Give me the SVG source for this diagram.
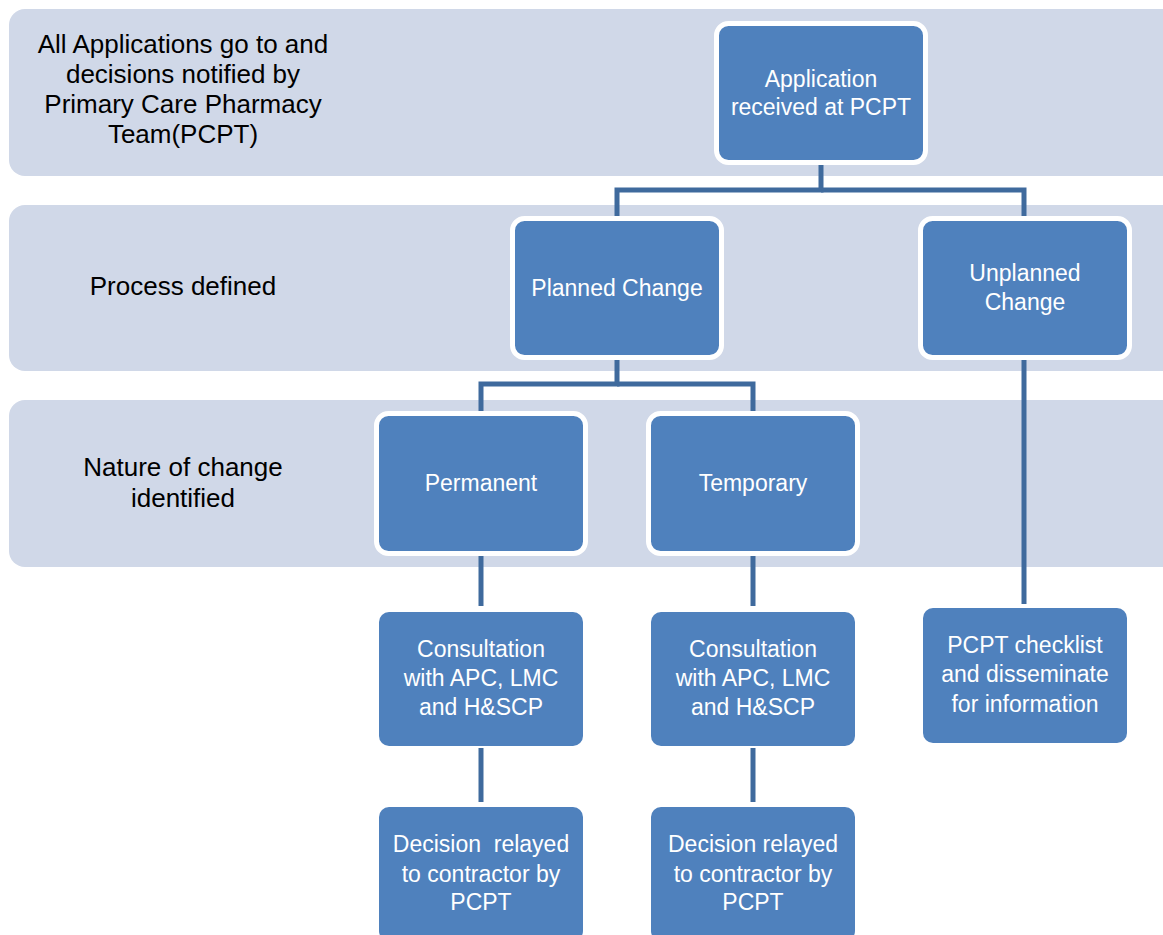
<svg xmlns="http://www.w3.org/2000/svg" width="1163" height="935" viewBox="0 0 1163 935">
<style>
.band{fill:#D0D8E8}
.lbl{font-family:"Liberation Sans",Arial,sans-serif;font-size:26px;fill:#000;text-anchor:middle}
.nb{fill:#4F81BD;stroke:#fff;stroke-width:5}
.n{fill:#4F81BD}
.t{font-family:"Liberation Sans",Arial,sans-serif;font-size:23px;fill:#fff;text-anchor:middle}
.c{fill:none;stroke:#3F6A9D;stroke-width:5}
</style>
<rect width="1163" height="935" fill="#fff"/>
<g id="bands">
<rect class="band" x="9" y="9" width="1170" height="167" rx="16"/>
<rect class="band" x="9" y="205" width="1170" height="166" rx="16"/>
<rect class="band" x="9" y="400" width="1170" height="167" rx="16"/>
</g>
<g id="labels">
<text class="lbl" x="183" y="53">All Applications go to and</text>
<text class="lbl" x="183" y="83">decisions notified by</text>
<text class="lbl" x="183" y="113">Primary Care Pharmacy</text>
<text class="lbl" x="183" y="143">Team(PCPT)</text>
<text class="lbl" x="183" y="295">Process defined</text>
<text class="lbl" x="183" y="476">Nature of change</text>
<text class="lbl" x="183" y="507">identified</text>
</g>
<g id="connectors">
<path class="c" d="M821 162 V190 H617 V219"/>
<path class="c" d="M821 190 H1024 V219"/>
<path class="c" d="M617 357 V384 H481 V414"/>
<path class="c" d="M617 384 H753 V414"/>
<path class="c" d="M481 553 V606"/>
<path class="c" d="M753 553 V606"/>
<path class="c" d="M481 748 V802"/>
<path class="c" d="M753 748 V802"/>
<path class="c" d="M1024 357 V604"/>
</g>
<g id="n-application">
<rect class="nb" x="716.5" y="23.5" width="209" height="139" rx="12"/>
<text class="t" x="821" y="87">Application</text>
<text class="t" x="821" y="115">received at PCPT</text>
</g>
<g id="n-planned">
<rect class="nb" x="512.5" y="218.5" width="209" height="139" rx="12"/>
<text class="t" x="617" y="296">Planned Change</text>
</g>
<g id="n-unplanned">
<rect class="nb" x="920.5" y="218.5" width="209" height="139" rx="12"/>
<text class="t" x="1025" y="281">Unplanned</text>
<text class="t" x="1025" y="310">Change</text>
</g>
<g id="n-permanent">
<rect class="nb" x="376.5" y="413.5" width="209" height="140" rx="12"/>
<text class="t" x="481" y="491">Permanent</text>
</g>
<g id="n-temporary">
<rect class="nb" x="648.5" y="413.5" width="209" height="140" rx="12"/>
<text class="t" x="753" y="491">Temporary</text>
</g>
<g id="n-consult-perm">
<rect class="n" x="379" y="612" width="204" height="134" rx="10"/>
<text class="t" x="481" y="657">Consultation</text>
<text class="t" x="481" y="686">with APC, LMC</text>
<text class="t" x="481" y="715">and H&amp;SCP</text>
</g>
<g id="n-consult-temp">
<rect class="n" x="651" y="612" width="204" height="134" rx="10"/>
<text class="t" x="753" y="657">Consultation</text>
<text class="t" x="753" y="686">with APC, LMC</text>
<text class="t" x="753" y="715">and H&amp;SCP</text>
</g>
<g id="n-checklist">
<rect class="n" x="923" y="608" width="204" height="135" rx="10"/>
<text class="t" x="1025" y="653">PCPT checklist</text>
<text class="t" x="1025" y="682">and disseminate</text>
<text class="t" x="1025" y="712">for information</text>
</g>
<g id="n-decision-perm">
<rect class="n" x="379" y="807" width="204" height="134" rx="10"/>
<text class="t" x="481" y="852" xml:space="preserve">Decision  relayed</text>
<text class="t" x="481" y="882">to contractor by</text>
<text class="t" x="481" y="910">PCPT</text>
</g>
<g id="n-decision-temp">
<rect class="n" x="651" y="807" width="204" height="134" rx="10"/>
<text class="t" x="753" y="852">Decision relayed</text>
<text class="t" x="753" y="882">to contractor by</text>
<text class="t" x="753" y="910">PCPT</text>
</g>
</svg>
